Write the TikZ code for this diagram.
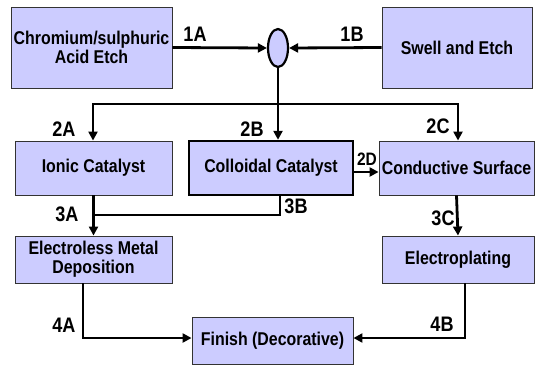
\documentclass[tikz,border=0pt]{standalone}
\usepackage{fontspec}
\setmainfont{Liberation Sans}
\newfontfamily\boxfont{Liberation Sans}[FakeStretch=0.86]
\usetikzlibrary{arrows.meta,shapes.geometric}
\definecolor{boxfill}{HTML}{CCCCFF}
\definecolor{boxline}{HTML}{333333}
\begin{document}
\begin{tikzpicture}[x=1pt,y=-1pt,
  proc/.style={draw=boxline,line width=0.9pt,fill=boxfill,font=\boxfont\bfseries\fontsize{18.5}{19}\selectfont,align=center,inner sep=0pt},
  lab/.style={font=\boxfont\bfseries\fontsize{21}{21}\selectfont,inner sep=0pt},
  conn/.style={line width=2.8pt,-{Triangle[length=9pt,width=9pt]}},
  plain/.style={line width=2.8pt}]
\useasboundingbox (0,0) rectangle (535,364);
% boxes
\node[proc,minimum width=161pt,minimum height=81pt] (chrom) at (91.5,47.5) {Chromium/sulphuric\\Acid Etch};
\node[proc,minimum width=150pt,minimum height=81pt] (swell) at (457,47.5) {Swell and Etch};
\node[proc,minimum width=157pt,minimum height=54pt] (ionic) at (93.5,168) {Ionic Catalyst};
\node[proc,draw=black,line width=2.4pt,minimum width=164pt,minimum height=54pt] (coll) at (271,168) {Colloidal Catalyst};
\node[proc,minimum width=155pt,minimum height=54pt] (cond) at (456.5,168) {Conductive Surface};
\node[proc,minimum width=157pt,minimum height=47pt] (elec) at (93.5,259.5) {Electroless Metal\\Deposition};
\node[proc,minimum width=152pt,minimum height=47pt] (plate) at (458,259.5) {Electroplating};
\node[proc,minimum width=161pt,minimum height=47pt] (finish) at (272.5,340.5) {Finish (Decorative)};
\node[ellipse,draw=black,line width=2.2pt,fill=boxfill,minimum width=20pt,minimum height=38pt,inner sep=0pt] (ell) at (278,48) {};
% bus coordinates
\coordinate (busL) at (93,104);
\coordinate (busM) at (278,104);
\coordinate (busR) at (458,104);
\coordinate (j3) at (93,215);
% connectors
\draw[conn] (chrom.east) -- (ell.west);
\draw[conn] (swell.west) -- (ell.east);
\draw[conn] (ell.south) -- (busM |- coll.north);
\draw[conn] (busM) -- (busL) -- (busL |- ionic.north);
\draw[conn] (busM) -- (busR) -- (busR |- cond.north);
\draw[conn] ([yshift=-4pt]coll.east) -- ([yshift=-4pt]cond.west);
\draw[conn] (ionic.south) -- (elec.north);
\draw[plain] ([xshift=9pt]coll.south) |- (j3);
\draw[conn] (cond.south) -- (plate.north);
\draw[conn] ([xshift=-10.5pt]elec.south) |- ([yshift=2.5pt]finish.west);
\draw[conn] ([xshift=7pt]plate.south) |- ([yshift=2.5pt]finish.east);
% labels
\node[lab] (l1a) at (195,34) {1A};
\node[lab] (l1b) at (352,34) {1B};
\node[lab] (l2a) at (64,129) {2A};
\node[lab] (l2b) at (252,129) {2B};
\node[lab] (l2c) at (438,126) {2C};
\node[lab,font=\boxfont\bfseries\fontsize{18}{18}\selectfont] (l2d) at (367,159) {2D};
\node[lab] (l3a) at (67,214) {3A};
\node[lab] (l3b) at (296,206) {3B};
\node[lab] (l3c) at (443,218) {3C};
\node[lab] (l4a) at (64,325) {4A};
\node[lab] (l4b) at (442,324) {4B};
\end{tikzpicture}
\end{document}
